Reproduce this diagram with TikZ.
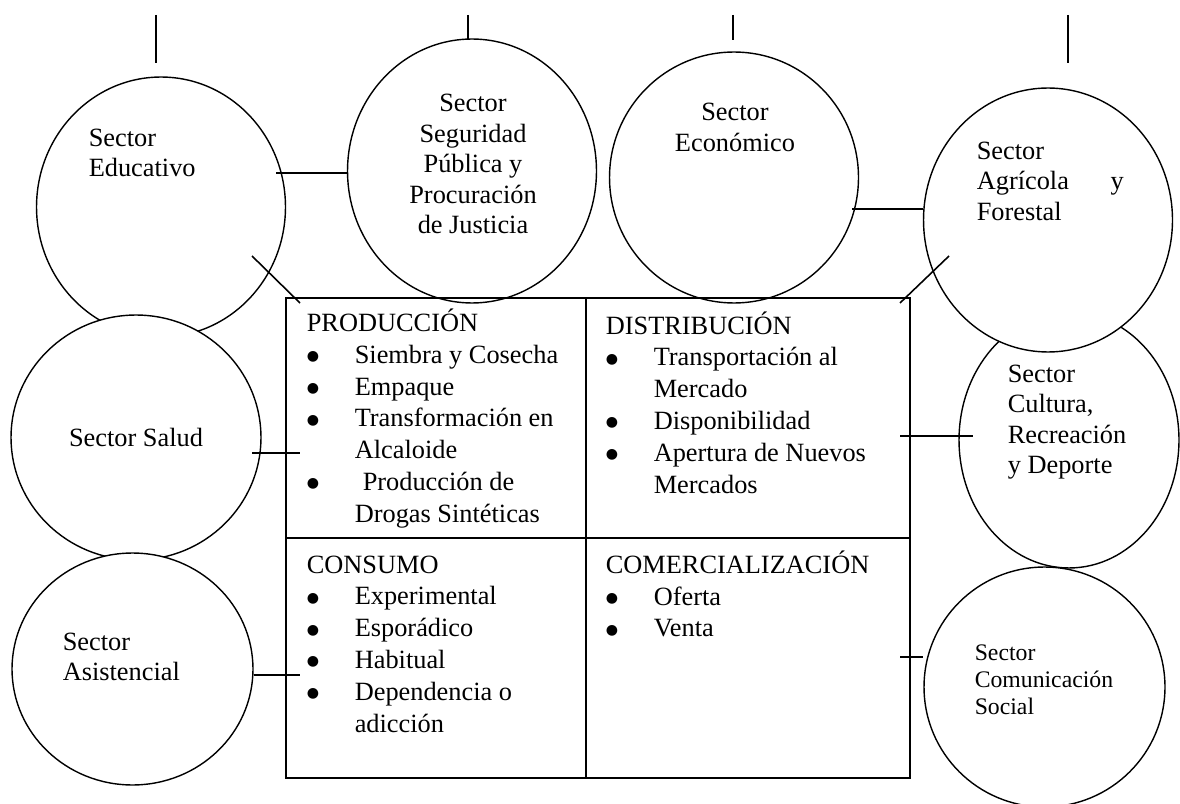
\documentclass[tikz,border=0pt]{standalone}
\usepackage{fontspec}
\setmainfont{Liberation Serif}
\newfontfamily\symfont{DejaVu Sans}
\usepackage{tikz}
\usetikzlibrary{shapes}
\newcommand{\secnode}{\node[ellipse,draw,fill=white,line width=0.8pt,inner sep=0pt]}
\newcommand{\txtnode}{\node[inner sep=0pt,font=\fontsize{15}{17.4}\selectfont]}
\newcommand{\cellnode}{\node[rectangle,draw,line width=1.4pt,inner sep=0pt,anchor=north west]}
\newcommand{\itm}[1]{\makebox[9.6mm][l]{\raisebox{1.5pt}{\symfont\fontsize{8}{8}\selectfont ●}}#1}
\newcommand{\cnt}[1]{\hspace*{9.6mm}#1}

\begin{document}
\begin{tikzpicture}[x=0.02cm,y=-0.02cm,line width=0.9pt]
      \useasboundingbox (0,0) rectangle (1180,804);
      % sectores
      \secnode[minimum width=4.98cm,minimum height=5.2cm] (edu) at (161,207) {};
      \secnode[minimum width=5cm,minimum height=4.9cm] (salud) at (136,437.5) {};
      \secnode[minimum width=4.82cm,minimum height=4.64cm] (asist) at (132.5,669) {};
      \secnode[minimum width=4.98cm,minimum height=5.28cm] (seg) at (472,171) {};
      \secnode[minimum width=4.98cm,minimum height=5.02cm] (econ) at (734,177.5) {};
      \secnode[minimum width=4.4cm,minimum height=5.12cm] (cult) at (1069,440) {};
      \secnode[minimum width=4.98cm,minimum height=5.28cm] (agr) at (1048,220) {};
      \secnode[minimum width=4.82cm,minimum height=4.8cm] (comun) at (1044.5,687) {};
      % cuadro central
      \cellnode[minimum width=6cm,minimum height=4.8cm] (prod) at (285,297) {};
      \cellnode[minimum width=6.48cm,minimum height=4.8cm] (dist) at (585,297) {};
      \cellnode[minimum width=6cm,minimum height=4.8cm] (cons) at (285,537) {};
      \cellnode[minimum width=6.48cm,minimum height=4.8cm] (come) at (585,537) {};
      % textos
      \txtnode[align=left,anchor=west] (edutxt) at (88,153) {Sector\\Educativo};
      \txtnode[align=center] (segtxt) at (473,164) {Sector\\Seguridad\\Pública y\\Procuración\\de Justicia};
      \txtnode[align=center] (econtxt) at (735,127.5) {Sector\\Económico};
      \txtnode[align=left,anchor=west] (agrtxt) at (976,181) {Sector\\\makebox[2.94cm][l]{Agrícola\hfill y}\\Forestal};
      \txtnode (saludtxt) at (136,437) {Sector Salud};
      \txtnode[align=left,anchor=west] (asisttxt) at (62,657) {Sector\\Asistencial};
      \txtnode[align=left,anchor=west] (culttxt) at (1007,422) {Sector\\Cultura,\\Recreación\\y Deporte};
      \txtnode[align=left,anchor=west,font=\fontsize{13.5}{15.3}\selectfont] (comuntxt) at (974,680) {Sector\\Comunicación\\Social};
      \txtnode[align=left,anchor=west,font=\fontsize{15}{18.1}\selectfont] (prodtxt) at (306,418.5) {PRODUCCIÓN\\
        \itm{Siembra y Cosecha}\\
        \itm{Empaque}\\
        \itm{Transformación en}\\
        \cnt{Alcaloide}\\
        \itm{\hspace{1.6mm}Producción de}\\
        \cnt{Drogas Sintéticas}};
      \txtnode[align=left,anchor=west,font=\fontsize{15}{18.1}\selectfont] (disttxt) at (605,402.5) {DISTRIBUCIÓN\\
        \itm{Transportación al}\\
        \cnt{Mercado}\\
        \itm{Disponibilidad}\\
        \itm{Apertura de Nuevos}\\
        \cnt{Mercados}};
      \txtnode[align=left,anchor=west,font=\fontsize{15}{18.1}\selectfont] (constxt) at (306,644) {CONSUMO\\
        \itm{Experimental}\\
        \itm{Esporádico}\\
        \itm{Habitual}\\
        \itm{Dependencia o}\\
        \cnt{adicción}};
      \txtnode[align=left,anchor=west,font=\fontsize{15}{18.1}\selectfont] (cometxt) at (605,594) {COMERCIALIZACIÓN\\
        \itm{Oferta}\\
        \itm{Venta}};
      % lineas
      \coordinate (up1) at (156,15); \coordinate (dn1) at (156,63);
      \coordinate (up2) at (468,15); \coordinate (dn2) at (468,39);
      \coordinate (up3) at (733,15); \coordinate (dn3) at (733,40);
      \coordinate (up4) at (1068,15); \coordinate (dn4) at (1068,63);
      \coordinate (eduin) at (276,173);
      \coordinate (econin) at (852,209);
      \coordinate (eduda) at (252,256); \coordinate (edudb) at (300,303);
      \coordinate (agrda) at (949,256); \coordinate (agrdb) at (900,303);
      \coordinate (saludin) at (252,453); \coordinate (saludbox) at (300,453);
      \coordinate (asistbox) at (300,675);
      \coordinate (cultbox) at (900,436); \coordinate (cultin) at (973,436);
      \coordinate (comunbox) at (900,657);
      \draw (up1) -- (dn1);
      \draw (up2) -- (dn2);
      \draw (up3) -- (dn3);
      \draw (up4) -- (dn4);
      \draw (eduin) -- (eduin -| seg.west);
      \draw (econin) -- (econin -| agr.west);
      \draw (eduda) -- (edudb);
      \draw (agrda) -- (agrdb);
      \draw (saludin) -- (saludbox);
      \draw (asistbox -| asist.east) -- (asistbox);
      \draw (cultbox) -- (cultin);
      \draw (comunbox) -- (comunbox -| comun.west);
    \end{tikzpicture}
\end{document}
